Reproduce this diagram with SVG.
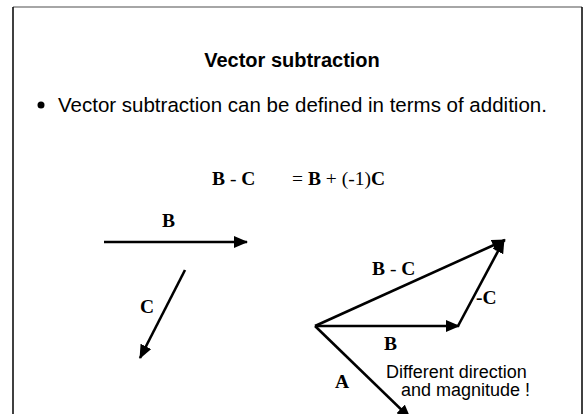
<svg xmlns="http://www.w3.org/2000/svg" width="584" height="414" viewBox="0 0 584 414">
<style>
.sans{font-family:"Liberation Sans",Arial,sans-serif;fill:#000}
.ser{font-family:"Liberation Serif","Times New Roman",serif;font-weight:bold;font-size:19.5px;fill:#000}
.vec{stroke:#000;stroke-width:2.6;fill:none}
</style>
<defs>
<marker id="ah" markerWidth="14" markerHeight="12" refX="13" refY="6" orient="auto" markerUnits="userSpaceOnUse" viewBox="0 0 14 12">
<path d="M0,0 L14,6 L0,12 z" fill="#000"/>
</marker>
</defs>
<rect width="584" height="414" fill="#fff"/>
<g id="frame">
<line x1="13" y1="7" x2="582" y2="7" stroke="#888" stroke-width="1.5"/>
<line x1="13" y1="7" x2="13" y2="414" stroke="#000" stroke-width="1.5"/>
<line x1="582" y1="7" x2="582" y2="414" stroke="#000" stroke-width="1.5"/>
</g>
<g id="title"><text class="sans" x="292" y="67" font-size="20" font-weight="bold" text-anchor="middle">Vector subtraction</text></g>
<g id="bullet">
<circle cx="41" cy="105" r="3.5" fill="#000"/>
<text class="sans" x="58" y="112" font-size="20.5">Vector subtraction can be defined in terms of addition.</text>
</g>
<g id="equation">
<text class="ser" x="212" y="185">B <tspan font-weight="normal">-</tspan> C</text>
<text class="ser" x="292" y="185"><tspan font-weight="normal">= </tspan>B<tspan font-weight="normal"> + (-1)</tspan>C</text>
</g>
<g id="connectors">
<line class="vec" x1="104" y1="242" x2="247" y2="242" marker-end="url(#ah)"/>
<line class="vec" x1="185" y1="270" x2="140" y2="358" marker-end="url(#ah)"/>
<line class="vec" x1="315" y1="326" x2="459" y2="326" marker-end="url(#ah)"/>
<line class="vec" x1="458" y1="326" x2="504" y2="240" marker-end="url(#ah)"/>
<line class="vec" x1="315" y1="326" x2="505" y2="240" marker-end="url(#ah)"/>
<line class="vec" x1="315" y1="326" x2="410" y2="418" marker-end="url(#ah)"/>
</g>
<g id="labels">
<text class="ser" x="162" y="227">B</text>
<text class="ser" x="140" y="313">C</text>
<text class="ser" x="372" y="275">B <tspan font-weight="normal">-</tspan> C</text>
<text class="ser" x="476" y="304">-C</text>
<text class="ser" x="384" y="350">B</text>
<text class="ser" x="335" y="388">A</text>
<text class="sans" x="386" y="378" font-size="18">Different direction</text>
<text class="sans" x="401" y="396" font-size="18">and magnitude !</text>
</g>
</svg>
